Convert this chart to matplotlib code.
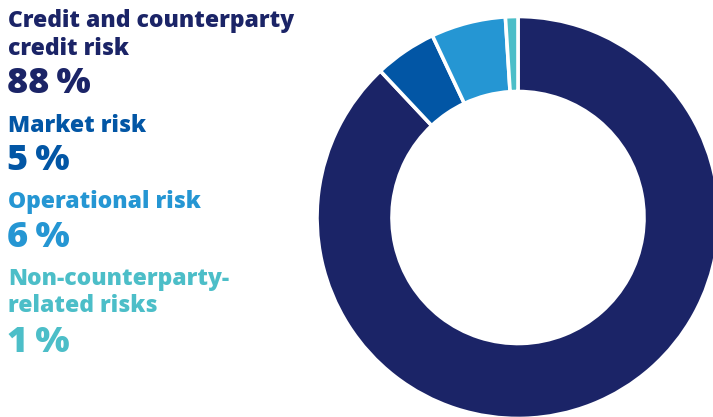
import matplotlib
matplotlib.use("Agg")
import matplotlib.pyplot as plt

# risk breakdown, share of total (%)
categories = ["Credit and counterparty\ncredit risk", "Market risk",
              "Operational risk", "Non-counterparty-\nrelated risks"]
shares = [88, 5, 6, 1]
colours = ["#1b2467", "#0256a5", "#2596d3", "#4cbec8"]

W, H = 713, 417
fig = plt.figure(figsize=(W / 100, H / 100), dpi=100)
ax = fig.add_axes([0, 0, 1, 1])

# donut, clockwise from 12 o'clock
ax.pie(shares, colors=colours, startangle=90, counterclock=False,
       center=(518, H - 217.5), radius=201,
       wedgeprops=dict(width=75, edgecolor="white", linewidth=2.6))
ax.set_xlim(0, W)
ax.set_ylim(0, H)
ax.set_aspect("equal")
ax.axis("off")

# label block on the left: (name baselines, value baseline) in px from top
name_base = [[27, 55], [132], [208], [285, 312]]
value_base = [93, 170, 247, 352]
for cat, val, col, nb, vb in zip(categories, shares, colours, name_base, value_base):
    for line, y in zip(cat.split("\n"), nb):
        ax.text(8, H - y, line, color=col, fontsize=16.5, fontweight="heavy",
                family="Open Sans", va="baseline", ha="left")
    ax.text(7, H - vb, f"{val}\u2009%", color=col, fontsize=26, fontweight="heavy",
            family="Open Sans", va="baseline", ha="left")

fig.savefig("out.png", dpi=100)
